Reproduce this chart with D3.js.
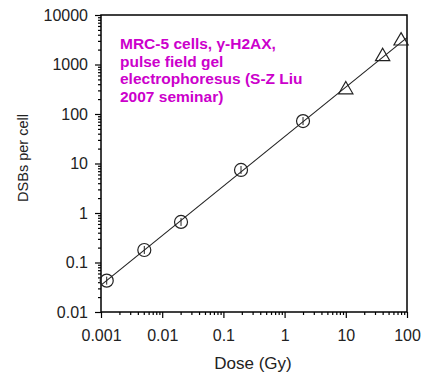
<!DOCTYPE html>
<html>
<head>
<meta charset="utf-8">
<script src="https://cdn.jsdelivr.net/npm/d3@7"></script>
<style>
  body { margin: 0; background: #fff; }
  text { font-family: "Liberation Sans", Arial, sans-serif; }
</style>
</head>
<body>
<div id="chart"></div>
<script>
var width = 425; // ancho
var height = 373; // alto

// datos
var circleDose = [0.00124, 0.0051, 0.0203, 0.194, 2.0];
var circleDSB = [0.043, 0.179, 0.66, 7.4, 72];
var triangleDose = [10, 40, 80];
var triangleDSB = [310, 1450, 3000];
var fitDose = [0.001, 100];
var fitDSB = [0.035, 3500];
var xTicks = [0.001, 0.01, 0.1, 1, 10, 100];
var yTicks = [0.01, 0.1, 1, 10, 100, 1000, 10000];
var note = ["MRC-5 cells, \u03b3-H2AX,", "pulse field gel", "electrophoresus (S-Z Liu", "2007 seminar)"];

var plotL = 101, plotR = 407, plotT = 15, plotB = 312;

var x = d3.scaleLog().domain([0.001, 100]).range([plotL, plotR]);
var y = d3.scaleLog().domain([0.01, 10000]).range([plotB, plotT]);

var svg = d3.select("#chart")
    .append("svg")
    .attr("width", width)
    .attr("height", height);

// caja
svg.append("rect")
    .attr("x", plotL)
    .attr("y", plotT)
    .attr("width", plotR - plotL)
    .attr("height", plotB - plotT)
    .attr("fill", "none")
    .attr("stroke", "#000")
    .attr("stroke-width", 1.5);

// ticks menores
var xMinor = [];
var yMinor = [];
for (var e = -3; e < 2; e++) for (var m = 2; m < 10; m++) xMinor.push(m * Math.pow(10, e));
for (var e = -2; e < 4; e++) for (var m = 2; m < 10; m++) yMinor.push(m * Math.pow(10, e));

var xAxis = d3.axisBottom(x).tickValues(xTicks).tickSize(6).tickPadding(12)
    .tickFormat(d3.format("~g"));
var yAxis = d3.axisLeft(y).tickValues(yTicks).tickSize(6).tickPadding(7)
    .tickFormat(d3.format("~g"));

svg.append("g")
    .attr("transform", "translate(0," + plotB + ")")
    .call(d3.axisBottom(x).tickValues(xMinor).tickSize(3).tickFormat(""))
    .call(g => g.select(".domain").remove());
svg.append("g")
    .attr("transform", "translate(" + plotL + ",0)")
    .call(d3.axisLeft(y).tickValues(yMinor).tickSize(3).tickFormat(""))
    .call(g => g.select(".domain").remove());

var gx = svg.append("g")
    .attr("transform", "translate(0," + plotB + ")")
    .call(xAxis);
gx.select(".domain").remove();
gx.selectAll("text").attr("font-size", 16).attr("fill", "#222")
    .style("font-family", "'Liberation Sans', Arial, sans-serif");

var gy = svg.append("g")
    .attr("transform", "translate(" + plotL + ",0)")
    .call(yAxis);
gy.select(".domain").remove();
gy.selectAll("text").attr("font-size", 16).attr("fill", "#222")
    .style("font-family", "'Liberation Sans', Arial, sans-serif");
svg.selectAll(".tick line").attr("stroke", "#000").attr("stroke-width", 1.2);

// linea de ajuste
var line = d3.line()
    .x((d, i) => x(fitDose[i]))
    .y((d, i) => y(fitDSB[i]));
svg.append("path")
    .datum(fitDose)
    .attr("d", line)
    .attr("fill", "none")
    .attr("stroke", "#222")
    .attr("stroke-width", 1.1);

// circulos con barra de error
var circles = circleDose.map((d, i) => ({ dose: d, dsb: circleDSB[i] }));
svg.selectAll(".err")
    .data(circles)
    .enter()
    .append("line")
    .attr("class", "err")
    .attr("x1", d => x(d.dose))
    .attr("x2", d => x(d.dose))
    .attr("y1", d => y(d.dsb) - 4)
    .attr("y2", d => y(d.dsb) + 4)
    .attr("stroke", "#222")
    .attr("stroke-width", 1);

svg.selectAll(".pt")
    .data(circles)
    .enter()
    .append("circle")
    .attr("class", "pt")
    .attr("cx", d => x(d.dose))
    .attr("cy", d => y(d.dsb))
    .attr("r", 6.5)
    .attr("fill", "none")
    .attr("stroke", "#222")
    .attr("stroke-width", 1.2);

// triangulos
var tris = triangleDose.map((d, i) => ({ dose: d, dsb: triangleDSB[i] }));
svg.selectAll(".tri")
    .data(tris)
    .enter()
    .append("path")
    .attr("class", "tri")
    .attr("d", d3.symbol().type(d3.symbolTriangle).size(88))
    .attr("transform", d => "translate(" + x(d.dose) + "," + y(d.dsb) + ")")
    .attr("fill", "none")
    .attr("stroke", "#222")
    .attr("stroke-width", 1.2);

// nota
svg.selectAll(".note")
    .data(note)
    .enter()
    .append("text")
    .attr("class", "note")
    .attr("x", 120)
    .attr("y", (d, i) => 49 + i * 17.7)
    .attr("font-size", 15.5)
    .attr("font-weight", "bold")
    .attr("fill", "#cc00cc")
    .text(d => d);

// titulos de ejes
svg.append("text")
    .attr("x", 253)
    .attr("y", 369)
    .attr("text-anchor", "middle")
    .attr("font-size", 17)
    .attr("fill", "#222")
    .text("Dose (Gy)");

svg.append("text")
    .attr("transform", "translate(28,158) rotate(-90)")
    .attr("text-anchor", "middle")
    .attr("font-size", 14.5)
    .attr("fill", "#222")
    .text("DSBs per cell");
</script>
</body>
</html>
